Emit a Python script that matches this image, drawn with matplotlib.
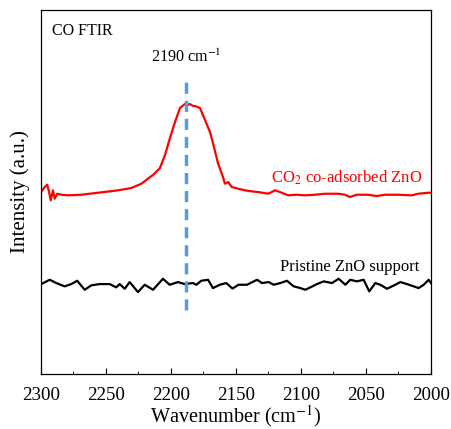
import numpy as np
import matplotlib
matplotlib.use("Agg")
import matplotlib.pyplot as plt
from matplotlib.ticker import MultipleLocator

plt.rcParams['font.family'] = ['Liberation Serif', 'DejaVu Serif']
plt.rcParams['mathtext.fontset'] = 'stix'

# CO2 co-adsorbed ZnO (red)
wn_red = [2299.8, 2297.2, 2295.2, 2293.8, 2292.5, 2290.8, 2289.5, 2287.5, 2284.4, 2279.2,
          2269.0, 2256.2, 2240.8, 2230.5, 2222.8, 2217.7, 2213.0, 2208.5, 2204.6, 2200.8,
          2196.9, 2193.1, 2189.3, 2187.0, 2185.4, 2183.0, 2181.6, 2177.7, 2173.8, 2170.0,
          2167.7, 2163.9, 2160.0, 2158.5, 2156.0, 2153.3, 2148.2, 2143.1, 2137.9, 2132.8,
          2125.2, 2120.0, 2116.2, 2109.8, 2103.3, 2096.9, 2089.2, 2081.5, 2071.3, 2066.2,
          2062.3, 2057.2, 2048.2, 2041.8, 2035.4, 2025.2, 2014.8, 2009.8, 2002.1, 2000.0]
int_red = [182, 187, 189.3, 182, 173.7, 183.7, 175.3, 180.3, 179.3, 178.7,
           179.3, 181.3, 183.7, 186, 190.3, 195.3, 200, 206, 219, 236,
           252, 266, 270, 269, 270, 268, 268, 266, 254, 242,
           231, 211, 197, 190.3, 192, 187, 185.3, 183.7, 182.7, 182,
           180.3, 183.7, 182, 178.7, 179.3, 178.7, 179.3, 180.3, 180.3, 179.3,
           177, 179.3, 179.3, 178, 179.3, 179.3, 178.7, 180.3, 181.3, 181.3]

# Pristine ZnO support (black)
wn_blk = [2299.8, 2293.3, 2288.2, 2281.8, 2276.7, 2272.1, 2266.4, 2261.3, 2254.8, 2247.2,
          2242.1, 2239.5, 2235.6, 2231.8, 2225.4, 2220.2, 2213.8, 2206.2, 2201.0, 2194.6,
          2189.5, 2183.1, 2180.5, 2176.7, 2171.5, 2167.7, 2162.5, 2157.5, 2152.7, 2148.1,
          2141.5, 2133.8, 2130.0, 2124.8, 2121.0, 2115.9, 2110.8, 2105.6, 2100.5, 2096.7,
          2092.8, 2087.7, 2082.5, 2076.2, 2071.0, 2065.9, 2062.1, 2056.9, 2051.8, 2047.5,
          2042.8, 2039.0, 2033.8, 2027.5, 2023.6, 2018.5, 2013.3, 2009.5, 2005.6, 2001.8,
          2000.0]
int_blk = [90, 94.3, 91, 87.7, 90, 93.3, 84.3, 88.7, 90, 90,
           86.7, 90, 85.3, 92, 82, 89.3, 84.3, 95.3, 89.3, 92,
           90, 91, 89.3, 93.3, 94.3, 86, 89.3, 91, 85.5, 89.3,
           89.3, 94.3, 91, 92, 89.3, 91, 93.3, 87.7, 86, 84.3,
           86.7, 90, 92.7, 91, 95.3, 89.3, 94.3, 92.7, 94.3, 82.7,
           91, 89.3, 85.3, 89.3, 92, 90, 87.7, 86, 89.3, 94.3,
           91]

peak_wn = 2188.5
peak_span = [64, 297]

fig = plt.figure(figsize=(4.52, 4.29), dpi=100)
ax = fig.add_axes([0.0907, 0.128, 0.8628, 0.8487])

ax.plot(wn_red, int_red, color='#ff0000', lw=1.6)
ax.plot(wn_blk, int_blk, color='black', lw=1.6)
ax.plot([peak_wn, peak_wn], peak_span, color='#5b9bd5', lw=2.5, ls=(0, (3.2, 2)))

ax.set_xlim(2300, 2000)
ax.set_ylim(0, 364)
ax.xaxis.set_major_locator(MultipleLocator(50))
ax.xaxis.set_minor_locator(MultipleLocator(25))
ax.tick_params(axis='x', which='major', direction='in', length=4, labelsize=13.6, pad=9.2)
ax.tick_params(axis='x', which='minor', direction='in', length=2.5)
ax.set_yticks([])
for s in ax.spines.values():
    s.set_linewidth(0.9)

ax.set_xlabel('Wavenumber (cm$^{-1}$)', fontsize=14.6, labelpad=-0.6)
ax.set_ylabel('Intensity (a.u.)', fontsize=15, labelpad=8)

ax.text(0.028, 0.965, 'CO FTIR', transform=ax.transAxes, fontsize=11.5, va='top', ha='left')
ax.text(peak_wn, 317, '2190 cm$^{-1}$', fontsize=11.6, ha='center', va='center')
ax.text(2123, 196, 'CO$_2$ co-adsorbed ZnO', color='#ff0000', fontsize=12, ha='left', va='center')
ax.text(2116, 107, 'Pristine ZnO support', color='black', fontsize=12, ha='left', va='center')

fig.savefig('out.png', dpi=100)
